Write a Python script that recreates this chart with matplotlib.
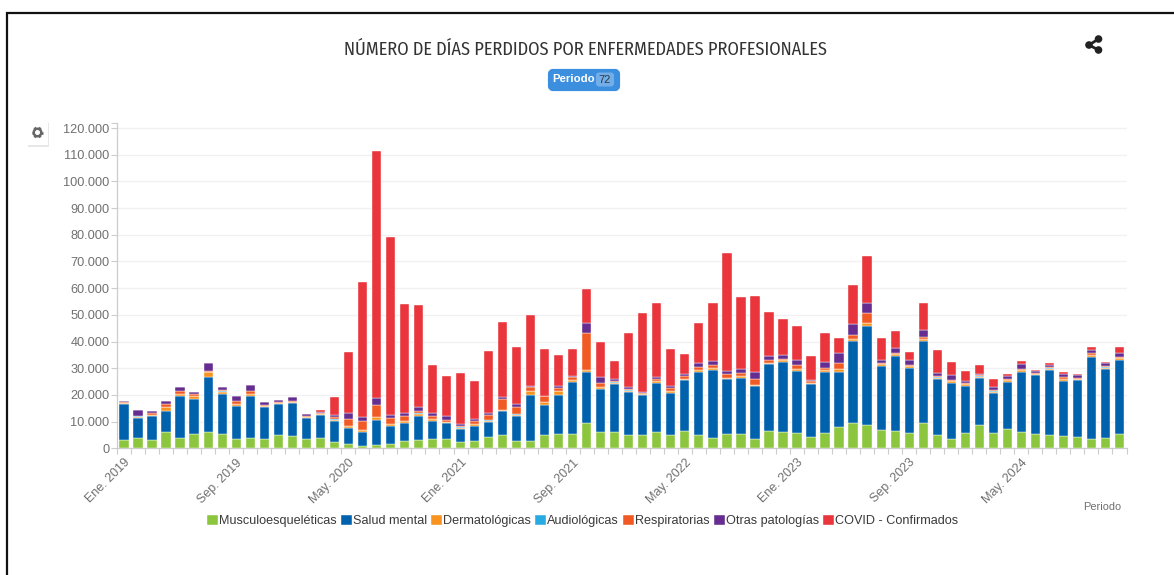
import matplotlib
matplotlib.use('Agg')
import matplotlib.pyplot as plt
from matplotlib.patches import FancyBboxPatch, Circle, Rectangle
import numpy as np

title = 'NÚMERO DE DÍAS PERDIDOS POR ENFERMEDADES PROFESIONALES'
tick_labels = ['Ene. 2019', 'Sep. 2019', 'May. 2020', 'Ene. 2021', 'Sep. 2021',
               'May. 2022', 'Ene. 2023', 'Sep. 2023', 'May. 2024']
series_names = ['Musculoesqueléticas', 'Salud mental', 'Dermatológicas', 'Audiológicas',
                'Respiratorias', 'Otras patologías', 'COVID - Confirmados']
series_colors = ['#8CC63F', '#0062AD', '#F7931E', '#29ABE2', '#F15A24', '#662D91', '#E9353B']

musculo = [3100, 3750, 3100, 6100, 4000, 5500, 6100, 5250, 3400, 4000, 3400, 5100,
           4750, 3400, 3900, 2500, 1750, 1000, 1250, 1600, 2750, 3100, 3400, 3400,
           2500, 2900, 4100, 4900, 2900, 2750, 4900, 5250, 5500, 9500, 6000, 6100,
           5100, 5000, 6000, 4900, 6400, 5100, 4000, 5500, 5250, 3600, 6500, 6100,
           5900, 4400, 5600, 8100, 9400, 8750, 6750, 6400, 5750, 9400, 5000, 3600,
           5600, 8600, 5600, 7400, 6250, 5400, 5000, 4500, 4400, 3600, 3750, 5250]
mental = [13400, 7750, 9000, 8000, 15750, 13000, 20750, 15250, 12600, 15600, 12100, 11400,
          12250, 8000, 8400, 7750, 6000, 5000, 9400, 6750, 6900, 8900, 6900, 5900,
          4750, 5500, 5900, 9100, 9100, 17100, 11500, 14750, 19400, 19250, 16250, 18000,
          16000, 14900, 18500, 15750, 19100, 23500, 25250, 20400, 21100, 19750, 24900, 26250,
          22900, 19600, 23000, 20500, 30900, 37100, 24250, 28000, 24500, 30900, 20900, 20900,
          17900, 17900, 15100, 17600, 22500, 22100, 24500, 20750, 21100, 30750, 26000, 28000]
dermato = [400, 400, 400, 1250, 500, 1000, 1600, 750, 500, 750, 400, 500,
           400, 400, 400, 500, 600, 750, 1000, 750, 600, 1000, 600, 500,
           500, 600, 400, 400, 600, 1500, 1000, 1400, 750, 500, 600, 500,
           500, 400, 750, 750, 500, 750, 750, 500, 750, 400, 600, 750,
           750, 500, 750, 1000, 600, 1000, 600, 750, 400, 500, 600, 600,
           500, 400, 500, 500, 500, 400, 400, 600, 400, 600, 500, 600]
audio = [100, 50, 50, 100, 100, 100, 100, 100, 50, 100, 50, 50,
         50, 50, 50, 100, 100, 100, 100, 100, 100, 100, 50, 50,
         50, 50, 100, 100, 100, 100, 100, 100, 100, 100, 100, 100,
         100, 50, 100, 100, 100, 100, 100, 100, 100, 100, 100, 100,
         100, 50, 100, 100, 100, 200, 100, 100, 50, 100, 100, 50,
         50, 50, 100, 100, 100, 50, 100, 100, 50, 100, 50, 100]
respir = [250, 250, 600, 1250, 1250, 750, 600, 600, 1250, 1100, 400, 400,
          400, 250, 400, 750, 2600, 3500, 4400, 2250, 1750, 900, 1250, 900,
          400, 1250, 2100, 4000, 2750, 1400, 2000, 1250, 1000, 14000, 1500, 500,
          500, 400, 750, 1250, 900, 1000, 1000, 1500, 1000, 2250, 900, 400,
          1600, 500, 750, 2250, 1600, 3750, 400, 600, 500, 900, 600, 400,
          250, 400, 500, 400, 500, 250, 400, 900, 500, 600, 400, 250]
otras = [600, 2000, 750, 1100, 1400, 750, 2750, 900, 1900, 2250, 1000, 600,
         1400, 900, 600, 750, 2250, 1250, 2600, 900, 1000, 1400, 900, 1500,
         900, 750, 600, 600, 1100, 600, 250, 750, 400, 3500, 2250, 900,
         750, 400, 750, 500, 1000, 1600, 1600, 1000, 1400, 2600, 1500, 1500,
         1900, 600, 2000, 3750, 4000, 3600, 900, 1900, 1900, 2500, 900, 2100,
         750, 600, 1000, 1250, 1600, 750, 750, 1100, 900, 1000, 1100, 1600]
covid = [0, 0, 0, 0, 0, 0, 0, 0, 0, 0, 0, 0,
         0, 0, 600, 7000, 22900, 50750, 92500, 66750, 41000, 38400, 18250, 15000,
         19100, 14000, 23400, 28100, 21400, 26400, 17500, 11600, 10100, 12900, 13250, 6500,
         20100, 29600, 27600, 14100, 7250, 14750, 21750, 44250, 27000, 28400, 16500, 13400,
         12600, 9000, 11000, 5750, 14500, 17500, 8400, 6250, 2900, 10250, 8900, 4600,
         3750, 3250, 3250, 750, 1100, 500, 750, 750, 600, 1400, 500, 2000]

series = [musculo, mental, dermato, audio, respir, otras, covid]

W, H = 1174, 575
fig = plt.figure(figsize=(W / 100, H / 100), dpi=100)
plt.rcParams['font.family'] = ['Liberation Sans', 'DejaVu Sans']

ax = fig.add_axes([117 / W, (H - 448.3) / H, 1009.5 / W, 325.6 / H])

x = np.arange(len(musculo))
bottom = np.zeros(len(x))
for name, vals, col in zip(series_names, series, series_colors):
    ax.bar(x, vals, 0.66, bottom=bottom, color=col, label=name,
           edgecolor='white', linewidth=0.3, zorder=3)
    bottom += np.array(vals)

ax.set_xlim(-0.5, len(x) - 0.5)
ax.set_ylim(0, 122000)

# y axis
yticks = np.arange(0, 120001, 10000)
ax.set_yticks(yticks)
ax.set_yticklabels([f'{v:,}'.replace(',', '.') for v in yticks], color='#707070', fontsize=9.2)
ax.set_yticks([122000], minor=True)
ax.tick_params(axis='y', which='both', length=4, width=0.8, color='#cccccc', pad=1.5)
ax.grid(axis='y', which='major', color='#f1f1f1', linewidth=1, zorder=0)

# x axis: ticks between the bars, labels every 8 months
ax.set_xticks(np.arange(-0.5, len(x)))
ax.set_xticklabels([])
ax.set_xticks(x[::8], minor=True)
ax.set_xticklabels(tick_labels, minor=True, rotation=45, ha='right', va='top',
                   rotation_mode='anchor', color='#707070', fontsize=9.0)
ax.tick_params(axis='x', which='major', length=4, width=0.8, color='#cccccc')
ax.tick_params(axis='x', which='minor', length=0, pad=6)

for s in ['top', 'right']:
    ax.spines[s].set_visible(False)
for s in ['left', 'bottom']:
    ax.spines[s].set_color('#cccccc')
    ax.spines[s].set_linewidth(0.9)

fig.legend(loc='center', bbox_to_anchor=(582.5 / W, 1 - 521 / H), ncol=7, frameon=False,
           fontsize=9.1, labelcolor='#3a3a3a', handlelength=0.85, handleheight=0.85,
           handletextpad=0.08, columnspacing=0.35, borderpad=0, borderaxespad=0)

# page decoration, drawn in pixel coordinates
deco = fig.add_axes([0, 0, 1, 1], facecolor='none')
deco.set_xlim(0, W)
deco.set_ylim(H, 0)
deco.axis('off')
deco.plot([6.5, 6.5, W], [H, 12.5, 12.5], color='#111111', linewidth=1.6, solid_joinstyle='miter')

deco.text(585.5, 49.5, title, ha='center', va='center', fontsize=13.2, color='#333333',
          family=['Fira Sans Condensed', 'Liberation Sans'])
deco.text(1102, 507, 'Periodo', ha='center', va='center', fontsize=7.9, color='#707070')

# Periodo badge
deco.add_patch(FancyBboxPatch((550, 71), 68, 18, boxstyle='round,pad=0,rounding_size=3',
                              facecolor='#3C8FDE', edgecolor='#3C8FDE', linewidth=3))
deco.add_patch(FancyBboxPatch((596, 72.5), 18, 14, boxstyle='round,pad=0,rounding_size=3',
                              facecolor='#73AEE8', edgecolor='none'))
deco.text(574, 78.5, 'Periodo', ha='center', va='center', fontsize=8.2, color='white', fontweight='bold')
deco.text(605, 80, '72', ha='center', va='center', fontsize=8, color='#2b3a4a')

# share icon
for cx, cy in [(1089, 45), (1098.5, 39), (1098.5, 50)]:
    deco.add_patch(Circle((cx, cy), 3.1, color='#222222'))
deco.plot([1098.5, 1089, 1098.5], [39, 45, 50], color='#222222', linewidth=2)

# settings button with a solid gear
deco.add_patch(Rectangle((27.5, 122.5), 21, 24, facecolor='#d8d8d8', edgecolor='none', alpha=0.6))
deco.add_patch(Rectangle((27, 121), 21, 24, facecolor='white', edgecolor='none'))
deco.add_patch(Circle((37.5, 132.5), 4.3, color='#666666'))
for ang in np.arange(0, np.pi, np.pi / 3):
    dx, dy = 5.8 * np.cos(ang), 5.8 * np.sin(ang)
    deco.plot([37.5 - dx, 37.5 + dx], [132.5 - dy, 132.5 + dy], color='#666666', linewidth=1.9,
              solid_capstyle='butt')
deco.add_patch(Circle((37.5, 132.5), 1.8, color='white', zorder=5))

fig.savefig('out.png', dpi=100)
